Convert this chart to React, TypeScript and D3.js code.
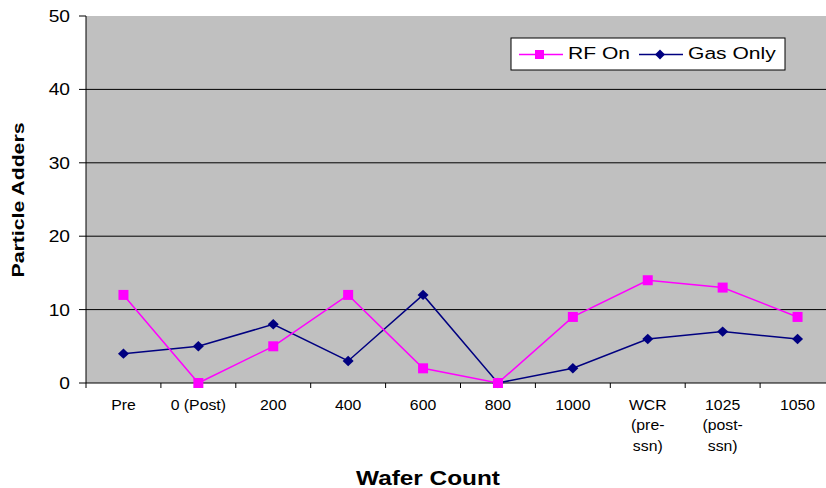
import React from "react";
import * as d3 from "d3";

const categories: string[][] = [
  ["Pre"], ["0 (Post)"], ["200"], ["400"], ["600"], ["800"], ["1000"],
  ["WCR", "(pre-", "ssn)"], ["1025", "(post-", "ssn)"], ["1050"],
];
const rfOn = [12, 0, 5, 12, 2, 0, 9, 14, 13, 9];
const gasOnly = [4, 5, 8, 3, 12, 0, 2, 6, 7, 6];
const yTicks = [0, 10, 20, 30, 40, 50];

const diamondPath = (hw: number, hh: number) => `M0,${-hh}L${hw},0L0,${hh}L${-hw},0Z`;

function SText(props: { x: number; y: number; sx: number; size: number; anchor?: string; bold?: boolean; children: React.ReactNode; rotate?: number }) {
  const { x, y, sx, size, anchor = "start", bold, children, rotate = 0 } = props;
  return (
    <text
      transform={`translate(${x},${y}) rotate(${rotate}) scale(${sx},1)`}
      textAnchor={anchor as any}
      fontSize={size}
      fontWeight={bold ? "bold" : "normal"}
    >
      {children}
    </text>
  );
}

export default function App() {
  const W = 826, H = 488;
  const left = 86, right = 835, top = 16, bottom = 383;
  const x = d3.scaleBand<number>().domain(d3.range(categories.length)).range([left, right]);
  const y = d3.scaleLinear().domain([0, 50]).range([bottom, top]);
  const cx = (i: number) => (x(i) as number) + x.bandwidth() / 2;
  const line = d3.line<number>().x((_, i) => cx(i)).y((d) => y(d));
  const font = "Arial, 'Liberation Sans', sans-serif";
  return (
    <svg width={W} height={H} style={{ position: "absolute", left: 0, top: 0 }} fontFamily={font}>
      <rect x={0} y={0} width={W} height={H} fill="#fff" />
      <rect x={left} y={top} width={right - left} height={bottom - top} fill="#C0C0C0" />
      {yTicks.map((t) => (
        <g key={t}>
          {t > 0 && t < 50 && <line x1={left} x2={right} y1={y(t)} y2={y(t)} stroke="#000" strokeWidth={1} />}
          <line x1={left - 7} x2={left} y1={y(t)} y2={y(t)} stroke="#000" />
          <SText x={70} y={y(t) + 6} sx={1.2} size={16} anchor="end">{t}</SText>
        </g>
      ))}
      <line x1={left} x2={left} y1={top} y2={bottom} stroke="#000" />
      <line x1={left} x2={right} y1={bottom} y2={bottom} stroke="#000" />
      {d3.range(categories.length + 1).map((i) => {
        const xx = left + i * x.step();
        return <line key={i} x1={xx} x2={xx} y1={bottom} y2={bottom + 5} stroke="#000" />;
      })}
      {categories.map((lines, i) => (
        <g key={i}>
          {lines.map((l, j) => (
            <SText key={j} x={cx(i)} y={409.5 + j * 20.5} sx={1.13} size={14} anchor="middle">{l}</SText>
          ))}
        </g>
      ))}
      <path d={line(gasOnly) || ""} fill="none" stroke="#000080" strokeWidth={1.5} />
      <path d={line(rfOn) || ""} fill="none" stroke="#FF00FF" strokeWidth={1.5} />
      {gasOnly.map((v, i) => (
        <path key={i} d={diamondPath(5.5, 5.2)} transform={`translate(${cx(i)},${y(v)})`} fill="#000080" />
      ))}
      {rfOn.map((v, i) => (
        <rect key={i} x={cx(i) - 5} y={y(v) - 5} width={10} height={10} fill="#FF00FF" />
      ))}
      <g>
        <rect x={511} y={38} width={274} height={32} fill="#fff" stroke="#000" />
        <line x1={519} x2={563} y1={54.5} y2={54.5} stroke="#FF00FF" strokeWidth={1.5} />
        <rect x={535} y={50} width={9} height={9} fill="#FF00FF" />
        <SText x={568} y={59} sx={1.24} size={17}>RF On</SText>
        <line x1={639} x2={683} y1={54.5} y2={54.5} stroke="#000080" strokeWidth={1.5} />
        <path d={diamondPath(5, 5)} transform="translate(660,54.5)" fill="#000080" />
        <SText x={688} y={59} sx={1.24} size={17}>Gas Only</SText>
      </g>
      <SText x={428} y={485} sx={1.25} size={19.5} anchor="middle" bold>Wafer Count</SText>
      <SText x={24} y={200} sx={1.25} size={17} anchor="middle" bold rotate={-90}>Particle Adders</SText>
    </svg>
  );
}
